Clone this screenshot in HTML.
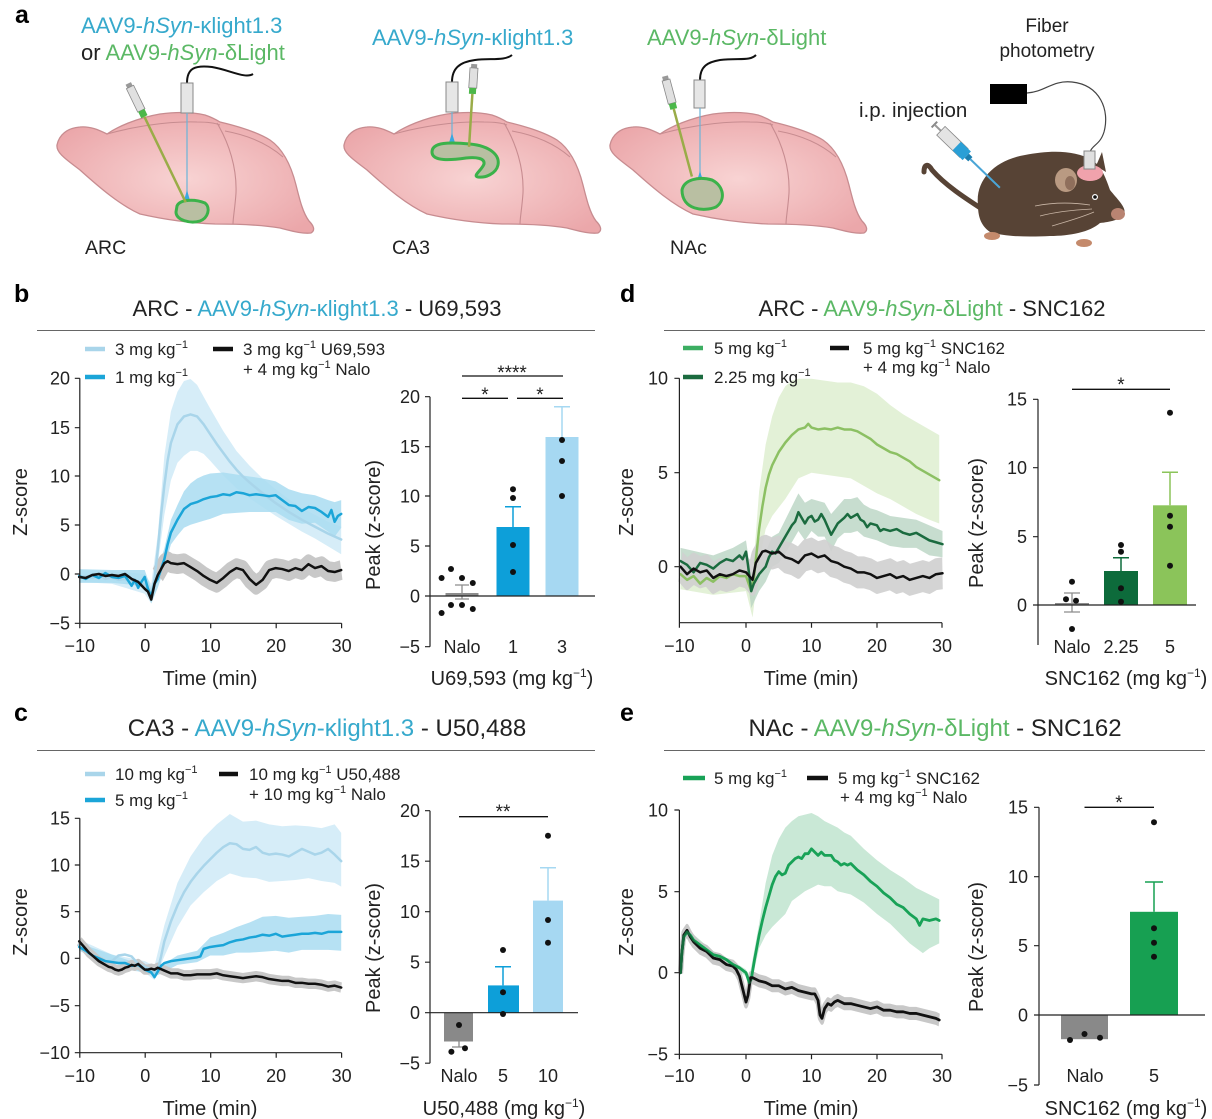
<!DOCTYPE html>
<html><head><meta charset="utf-8">
<style>
html,body{margin:0;padding:0;background:#fff;}
svg{display:block;}
text{font-family:"Liberation Sans","DejaVu Sans",sans-serif;fill:#222;}
.t{font-size:18px;}
.ax{font-size:20px;}
.lg{font-size:17px;}
.ti{font-size:22px;}
.ti2{font-size:24px;}
.ta{font-size:22px;}
.pl{font-size:25px;font-weight:bold;fill:#000;}
.cy{fill:#36a9cc;}
.gr{fill:#5bb865;}
.st{font-size:19px;}
.dl{vector-effect:non-scaling-stroke;fill:none;stroke-linejoin:round;stroke-linecap:round;}
.axl{stroke:#222;stroke-width:1.2;fill:none;}
.rule{stroke:#666;stroke-width:1;}
</style></head><body>
<svg width="1212" height="1119" viewBox="0 0 1212 1119" xmlns="http://www.w3.org/2000/svg">
<defs>
<radialGradient id="bgr" cx="0.5" cy="0.55" r="0.6"><stop offset="0" stop-color="#f8d3d3"/><stop offset="1" stop-color="#eba7aa"/></radialGradient>
<g id="brain">
<path d="M0,32 C2,22 10,15 23,14 C33,13 42,17 50,21 C60,14 80,5 103,1 C118,-1 135,-1 148,2 C154,4 158,6 163,9 C180,13 200,19 213,27 C226,36 234,52 239,72 C243,88 246,100 252,108 C256,112 259,117 254,120 C245,121 235,118 223,115 C205,112 180,111 158,111 C130,110 105,106 83,101 C63,92 43,75 23,57 C10,47 -1,40 0,32 Z" fill="url(#bgr)" stroke="#c78c90" stroke-width="1.3"/>
<path d="M50,21 C75,14 110,8 140,9 C150,9 158,10 163,12" fill="none" stroke="#c78c90" stroke-width="1.1"/>
<path d="M160,10 C172,30 180,55 179,80 C178,95 176,105 176,111" fill="none" stroke="#c78c90" stroke-width="1.1"/>
<path d="M168,18 C190,22 210,30 226,44" fill="none" stroke="#c78c90" stroke-width="1"/>
</g>
</defs>

<!-- ===== Panel a ===== -->
<text class="pl" x="15" y="23">a</text>
<text class="ta" x="81" y="33"><tspan class="cy">AAV9-<tspan font-style="italic">hSyn</tspan>-κlight1.3</tspan></text>
<text class="ta" x="81" y="60">or <tspan class="gr">AAV9-<tspan font-style="italic">hSyn</tspan>-δLight</tspan></text>
<text class="ta" x="372" y="45"><tspan class="cy">AAV9-<tspan font-style="italic">hSyn</tspan>-κlight1.3</tspan></text>
<text class="ta" x="647" y="45"><tspan class="gr">AAV9-<tspan font-style="italic">hSyn</tspan>-δLight</tspan></text>

<use href="#brain" transform="translate(57,113)"/>
<use href="#brain" transform="translate(344,113)"/>
<use href="#brain" transform="translate(610,113)"/>

<!-- ARC instruments -->
<path d="M187,83 C187,68 195,65 212,67 C230,70 245,79 253,74" stroke="#111" stroke-width="2" fill="none"/>
<rect x="181" y="83" width="12" height="30" fill="#e6e6e6" stroke="#888"/>
<line x1="187" y1="113" x2="187" y2="198" stroke="#6ab4d8" stroke-width="1.2"/>
<polygon points="183,204 191,204 187,190" fill="#3aa8e0"/>
<path d="M177,206 C180,199 195,199 205,203 C211,208 208,218 200,221 C190,224 176,220 176,212 Z" fill="#b9bfa2" stroke="#3bb24a" stroke-width="3"/>
<g transform="translate(130,87) rotate(64.2)">
<rect x="-4" y="-3" width="4" height="6" fill="#999"/>
<rect x="0" y="-4" width="26" height="8" fill="#e0e0e0" stroke="#888" stroke-width="0.8"/>
<rect x="26" y="-3.5" width="7" height="7" fill="#4cb84a"/>
<line x1="33" y1="0" x2="128" y2="0" stroke="#9aac48" stroke-width="2.5"/>
</g>
<!-- CA3 instruments -->
<path d="M452,82 C452,68 460,62 475,60 C490,58 505,61 512,55" stroke="#111" stroke-width="2" fill="none"/>
<rect x="446" y="82" width="12" height="30" fill="#e6e6e6" stroke="#888"/>
<line x1="452" y1="112" x2="452" y2="140" stroke="#6ab4d8" stroke-width="1.2"/>
<polygon points="448,146 456,146 452,133" fill="#3aa8e0"/>
<path d="M432,152 C432,142 450,142 470,144 C490,146 500,155 498,165 C496,174 485,178 478,177 C472,176 482,170 484,164 C485,158 476,157 466,158 C452,160 432,162 432,152 Z" fill="#b9bfa2" stroke="#3bb24a" stroke-width="3"/>
<g transform="translate(474,68) rotate(93.6)">
<rect x="-4" y="-3" width="4" height="6" fill="#999"/>
<rect x="0" y="-4" width="20" height="8" fill="#e0e0e0" stroke="#888" stroke-width="0.8"/>
<rect x="20" y="-3.5" width="6" height="7" fill="#4cb84a"/>
<line x1="26" y1="0" x2="79" y2="0" stroke="#9aac48" stroke-width="2.5"/>
</g>
<!-- NAc instruments -->
<path d="M700,80 C700,66 708,62 720,60 C740,58 750,61 756,55" stroke="#111" stroke-width="2" fill="none"/>
<rect x="694" y="80" width="11" height="28" fill="#e6e6e6" stroke="#888"/>
<line x1="700" y1="108" x2="700" y2="178" stroke="#6ab4d8" stroke-width="1.2"/>
<polygon points="696,184 704,184 700,171" fill="#3aa8e0"/>
<path d="M682,190 C684,180 698,176 712,180 C724,186 726,200 716,207 C704,212 682,210 682,190 Z" fill="#b9bfa2" stroke="#3bb24a" stroke-width="3"/>
<g transform="translate(666,80) rotate(75)">
<rect x="-4" y="-3" width="4" height="6" fill="#999"/>
<rect x="0" y="-4" width="24" height="8" fill="#e0e0e0" stroke="#888" stroke-width="0.8"/>
<rect x="24" y="-3.5" width="6" height="7" fill="#4cb84a"/>
<line x1="30" y1="0" x2="100" y2="0" stroke="#9aac48" stroke-width="2.5"/>
</g>

<text x="85" y="254" font-size="19.5">ARC</text>
<text x="392" y="254" font-size="19.5">CA3</text>
<text x="670" y="254" font-size="19.5">NAc</text>

<!-- mouse -->
<text x="1047" y="32" text-anchor="middle" font-size="19">Fiber</text>
<text x="1047" y="57" text-anchor="middle" font-size="19">photometry</text>
<text x="859" y="117" font-size="20.5">i.p. injection</text>
<rect x="990" y="84" width="37" height="20" fill="#000"/>
<path d="M1027,93 C1045,92 1052,80 1072,82 C1100,85 1110,110 1104,132 C1100,145 1092,145 1090,152" stroke="#444" stroke-width="1.2" fill="none"/>
<path d="M982,209 C965,198 945,185 932,170 C928,163 924,164 924,172" stroke="#574335" stroke-width="5" fill="none" stroke-linecap="round"/>
<path d="M978,205 C975,180 995,160 1025,155 C1050,150 1075,150 1092,160 C1100,165 1105,175 1110,190 C1118,200 1127,208 1124,214 C1120,220 1110,222 1100,223 C1090,232 1070,236 1050,236 C1030,237 1005,237 990,232 C980,225 978,215 978,205 Z" fill="#574335"/>
<path d="M1096,166 L1102,152 L1106,172 Z" fill="#574335"/>
<ellipse cx="1066" cy="180" rx="11" ry="12" fill="#b99a82"/>
<ellipse cx="1070" cy="183" rx="5" ry="7" fill="#8f6f5c"/>
<ellipse cx="1090" cy="173" rx="13" ry="8" fill="#f0a2ac"/>
<rect x="1084" y="151" width="11" height="18" fill="#e0e0e0" stroke="#888"/>
<circle cx="1095" cy="197" r="3" fill="#fff"/><circle cx="1095" cy="197" r="1.8" fill="#111"/>
<ellipse cx="1118" cy="214" rx="7" ry="6" fill="#b98472"/>
<path d="M1090,205 C1070,202 1050,203 1035,206 M1092,209 C1072,210 1055,212 1040,216 M1094,212 C1080,218 1065,222 1052,226" stroke="#c9b6a6" stroke-width="0.8" fill="none"/>
<ellipse cx="992" cy="236" rx="8" ry="4" fill="#c48a6c"/>
<ellipse cx="1084" cy="243" rx="8" ry="4" fill="#c48a6c"/>
<g transform="translate(938,128) rotate(44)">
<rect x="-6" y="-4" width="2" height="8" fill="#888"/>
<rect x="-5" y="-1" width="9" height="2" fill="#999"/>
<rect x="4" y="-6" width="32" height="12" fill="#e4e4e4" stroke="#888" stroke-width="0.8"/>
<rect x="26" y="-6" width="14" height="12" fill="#2a9fd6"/>
<rect x="40" y="-3" width="5" height="6" fill="#1b7fb0"/>
<line x1="45" y1="0" x2="86" y2="0" stroke="#4aa5d6" stroke-width="2"/>
</g>

<!-- ===== Panel b ===== -->
<text class="pl" x="14" y="302">b</text>
<text class="ti" x="317" y="316" text-anchor="middle">ARC - <tspan class="cy">AAV9-<tspan font-style="italic">hSyn</tspan>-κlight1.3</tspan> - U69,593</text>
<line class="rule" x1="37" y1="330.5" x2="595" y2="330.5"/>

<g transform="translate(144.7,574) scale(6.55,-9.85)">
<path d="M-10,0.4 L-5,0.3 0,0 1,-1 2,4 3,12 4,16.5 5,18.5 6,19.6 7,19.8 8,19.2 9,18 10,16.8 12,14.5 14,12.5 16,11 18,9.7 20,8.6 22,7.6 24,6.7 26,6 28,5.3 30,4.8 30,2 28,2.8 26,3.6 24,4.3 22,5.1 20,5.9 18,6.8 16,7.7 14,8.7 12,10 10,11.5 9,12.2 8,12.5 7,12.5 6,12 5,11.3 4,9.5 3,6 2,1 1,-3 0,-2 -5,-1 -10,-0.8Z" fill="#d6edf8"/>
<path d="M-10,0.5 L-5,0.4 0,0.4 1,-1.5 2,0.5 3,2.6 4,5.5 5,7 6,8.4 7,9.2 8,9.7 9,10 10,10.2 12,10.3 14,10.1 16,9.9 18,9.7 20,9.4 22,8.6 24,8.2 26,8 28,7.5 29,7.3 30,7.5 30,4.7 29,3.8 28,4.3 26,5.2 24,5.1 22,5.5 20,6.3 18,6.3 16,6.3 14,6.2 12,6.1 10,5.6 9,5.4 8,5.2 7,5 6,4.7 5,3.9 4,3 3,0.6 2,-1.4 1,-3 0,-1.2 -5,-0.9 -10,-0.9Z" fill="#a9dcf1" opacity="0.85"/>
<path d="M2,-0.1 L2.5,0.5 3,1.1 3.5,1.3 4,1.1 5,1 6,1.1 7,0.7 8,0.3 9,-0.2 10,-0.6 11,-0.9 12,-0.4 13,0.2 14,0.6 15,0.4 16,-0.5 17,-1.1 18,-0.6 19,0.4 20,0.6 21,0.5 22,0.3 23,0.6 24,0.4 25,1 26,0.6 27,0.8 28,0.3 29,0.2 30,0.4" fill="none" stroke="#c8c8c8" stroke-width="2" stroke-linejoin="round"/>
<path class="dl" stroke="#a9d5ea" stroke-width="2.5" d="M-10,-0.3 L-9,-0.2 -8,-0.4 -7,-0.1 -6,-0.5 -5,-0.3 -4,-0.6 -3,-0.5 -2,-0.8 -1,-1.2 0,-1 0.5,-1.6 1,-2 1.5,-0.5 2,2.5 2.5,6 3,9 3.5,11.5 4,13.3 5,15.2 6,16 7,16.2 8,16 9,15.2 10,14.2 11,13.2 12,12.3 13,11.4 14,10.6 15,9.9 16,9.3 18,8.2 20,7.2 22,6.3 24,5.5 26,4.8 28,4.1 30,3.5"/>
<path class="dl" stroke="#1ba5d8" stroke-width="2.5" d="M-10,-0.2 L-9,-0.5 -8,-0.1 -7,-0.4 -6,0.1 -5,-0.3 -4,-0.4 -3,-0.2 -2,-1.2 -1.5,-0.6 -1,-1.4 -0.5,-0.8 0,-0.3 0.5,-1.5 1,-2.3 1.5,-1 2,-0.5 2.5,0.5 3,1.5 3.5,3 4,4.2 5,5.5 6,6.6 7,7.1 8,7.3 9,7.6 10,7.8 11,7.9 12,8.1 13,8 14,8.3 15,8.2 16,8 17,8.1 18,8 19,7.9 20,8 21,7.5 22,7 23,6.9 24,6.4 25,6.8 26,6.7 27,6.3 28,5.8 28.5,6.5 29,5.3 29.5,5.9 30,6.1"/>
<path class="dl" stroke="#111" stroke-width="2.5" d="M-10,-0.3 L-9,-0.4 -8,-0.1 -7,0 -6,-0.2 -5,-0.1 -4,-0.2 -3,0 -2,-0.5 -1,-0.8 0,-1.5 0.5,-1.8 1,-2.6 1.5,-1 2,-0.1 2.5,0.5 3,1.1 3.5,1.3 4,1.1 5,1 6,1.1 7,0.7 8,0.3 9,-0.2 10,-0.6 11,-0.9 12,-0.4 13,0.2 14,0.6 15,0.4 16,-0.5 17,-1.1 18,-0.6 19,0.4 20,0.6 21,0.5 22,0.3 23,0.6 24,0.4 25,1 26,0.6 27,0.8 28,0.3 29,0.2 30,0.4"/>
</g>
<line x1="85" y1="349" x2="105" y2="349" stroke="#a9d5ea" stroke-width="4.5"/>
<text class="lg" x="115" y="355">3 mg kg<tspan dy="-7" font-size="11">−1</tspan></text>
<line x1="85" y1="377" x2="105" y2="377" stroke="#1ba5d8" stroke-width="4.5"/>
<text class="lg" x="115" y="383">1 mg kg<tspan dy="-7" font-size="11">−1</tspan></text>
<line x1="213" y1="349" x2="233" y2="349" stroke="#111" stroke-width="4.5"/>
<text class="lg" x="243" y="355">3 mg kg<tspan dy="-7" font-size="11">−1</tspan><tspan dy="7"> U69,593</tspan></text>
<text class="lg" x="243" y="375">+ 4 mg kg<tspan dy="-7" font-size="11">−1</tspan><tspan dy="7"> Nalo</tspan></text>
<path class="axl" d="M79.8,378.3 V623.3 H341.6 M74.8,378.3 H79.8 M74.8,427.7 H79.8 M74.8,476 H79.8 M74.8,525 H79.8 M74.8,574 H79.8 M74.8,623.3 H79.8 M79.8,623.3 v5 M145.2,623.3 v5 M210.7,623.3 v5 M276.2,623.3 v5 M341.6,623.3 v5"/>
<g class="t" text-anchor="end">
<text x="70" y="384.6">20</text><text x="70" y="434">15</text><text x="70" y="482.3">10</text><text x="70" y="531.3">5</text><text x="70" y="580.3">0</text><text x="70" y="629.6">−5</text>
</g>
<g class="t" text-anchor="middle">
<text x="79.8" y="652">−10</text><text x="145.2" y="652">0</text><text x="210.7" y="652">10</text><text x="276.2" y="652">20</text><text x="341.6" y="652">30</text>
</g>
<text class="ax" x="210" y="685" text-anchor="middle">Time (min)</text>
<text class="ax" transform="translate(27,502) rotate(-90)" text-anchor="middle">Z-score</text>

<!-- b bar -->
<rect x="445.5" y="593" width="33" height="3" fill="#8c8c8c"/>
<path d="M462,585 V599 M455,585 H469 M455,599 H469" stroke="#8c8c8c" stroke-width="1.3"/>
<rect x="496.5" y="527" width="33" height="69" fill="#0d9fd9"/>
<path d="M513,527 V506.7 M505,506.7 H521" stroke="#0d9fd9" stroke-width="1.5"/>
<rect x="545.5" y="437" width="33" height="159" fill="#a6d8f2"/>
<path d="M562,437 V406.7 M554,406.7 H570" stroke="#a6d8f2" stroke-width="1.5"/>
<path class="axl" d="M430,396.7 V646.7 M425,396.7 H430 M425,446.7 H430 M425,496 H430 M425,546 H430 M425,596 H430 M425,646.7 H430 M430,596 H595"/>
<g fill="#111">
<circle cx="451" cy="569" r="3"/><circle cx="441.6" cy="578" r="3"/><circle cx="462" cy="578" r="3"/><circle cx="472.8" cy="583" r="3"/><circle cx="451" cy="605" r="3"/><circle cx="462" cy="605" r="3"/><circle cx="441.6" cy="613" r="3"/><circle cx="472.8" cy="609" r="3"/>
<circle cx="513" cy="489.3" r="3"/><circle cx="513" cy="498" r="3"/><circle cx="513" cy="545" r="3"/><circle cx="513" cy="572" r="3"/>
<circle cx="562" cy="440" r="3"/><circle cx="562" cy="461" r="3"/><circle cx="562" cy="496" r="3"/>
</g>
<path d="M462,376 H563 M462,398.3 H508 M517,398.3 H563" stroke="#111" stroke-width="1.3"/>
<text class="st" x="512" y="379" text-anchor="middle">****</text>
<text class="st" x="485" y="401" text-anchor="middle">*</text>
<text class="st" x="540" y="401" text-anchor="middle">*</text>
<g class="t" text-anchor="end">
<text x="420" y="403">20</text><text x="420" y="453">15</text><text x="420" y="502.3">10</text><text x="420" y="552.3">5</text><text x="420" y="602.3">0</text><text x="420" y="653">−5</text>
</g>
<g class="t" text-anchor="middle">
<text x="462" y="653">Nalo</text><text x="513" y="653">1</text><text x="562" y="653">3</text>
</g>
<text class="ax" x="512" y="685" text-anchor="middle">U69,593 (mg kg<tspan dy="-8" font-size="12">−1</tspan><tspan dy="8">)</tspan></text>
<text class="ax" transform="translate(380,525) rotate(-90)" text-anchor="middle">Peak (z-score)</text>

<!-- ===== Panel d ===== -->
<text class="pl" x="620" y="302">d</text>
<text class="ti" x="932" y="316" text-anchor="middle">ARC - <tspan class="gr">AAV9-<tspan font-style="italic">hSyn</tspan>-δLight</tspan> - SNC162</text>
<line class="rule" x1="664" y1="330.5" x2="1205" y2="330.5"/>

<g transform="translate(746,566.7) scale(6.55,-18.8)">
<path d="M-10,0.3 L-5,0.1 0,0.4 1,-0.5 2,4 3,6.5 4,8 5,9 6,9.6 7,9.9 8,10 10,10 12,9.9 14,9.8 16,9.8 18,9.6 20,9.2 22,8.6 24,8.1 26,7.7 28,7.3 29.5,7 29.5,2.3 28,2.5 26,2.8 24,3.2 22,3.6 20,3.9 18,4.3 16,4.7 14,4.8 12,4.9 10,5 8,4.7 6,3.6 4,2.7 3,2 2,0.2 1,-2.7 0,-1.3 -5,-1.5 -10,-1.2Z" fill="#e3f1d7"/>
<path d="M-10,1 L-5,0.6 -2,1 0,1.4 0.8,-0.5 2,0.4 3,0.8 4,1.6 5,1.8 6,2.5 7,3.2 8,3.9 9,3.4 10,3.6 11,3.5 12,3.4 13,2.8 14,3.2 15,3.6 16,3.6 17,3.7 18,3.3 19,3.1 20,3 22,2.7 24,2.6 26,2.5 28,2.2 30,1.9 30,0.5 28,0.6 26,1 24,1 22,1.1 20,1.4 19,1.5 18,1.6 17,1.9 16,1.8 15,1.8 14,1.5 13,0.8 12,1.6 11,1.6 10,1.9 9,1.4 8,1.9 7,1.3 6,0.7 5,0.2 4,0 3,-0.8 2,-1.3 0.8,-2.2 0,0 -2,-0.5 -5,-0.8 -10,-0.4Z" fill="#b9d5c3" opacity="0.8"/>
<path d="M-10,0 L-9,-0.4 -8,-0.1 -7,-0.3 -6,-0.2 -5,-0.6 -4,-0.4 -3,-0.5 -2,-0.4 -1,-0.2 0,-0.3 0.5,-0.5 1,-0.7 1.5,0.2 2,0.5 2.5,0.8 3,0.85 4,0.7 5,0.8 6,0.5 7,0.4 8,0.2 9,0.6 10,0.7 11,0.5 12,0.6 13,0.3 14,0.2 15,0 16,-0.1 17,-0.3 18,-0.3 19,-0.4 20,-0.6 21,-0.5 22,-0.4 23,-0.6 24,-0.5 25,-0.7 26,-0.6 27,-0.5 28,-0.6 29,-0.4 30,-0.35" fill="none" stroke="#cfcfcf" stroke-width="1.7" stroke-linejoin="round" opacity="0.9"/>
<path class="dl" stroke="#8cc063" stroke-width="2.5" d="M-10,-0.4 L-9,-0.7 -8,-0.5 -7,-0.9 -6,-0.6 -5,-0.8 -4,-0.5 -3,-0.6 -2,-0.4 -1,-0.5 0,-0.5 0.5,-1 0.8,-1.3 1.2,-0.6 1.7,1 2,2 2.5,3.2 3,4.2 3.5,4.9 4,5.4 5,6.1 6,6.6 7,7 8,7.3 9,7.4 9.5,7.6 10,7.4 11,7.3 12,7.35 13,7.3 14,7.4 15,7.3 16,7.3 17,7.2 18,7 19,6.8 20,6.5 21,6.3 22,6.1 23,6 24,5.8 25,5.6 26,5.3 27,5.1 28,4.9 29,4.7 29.5,4.6"/>
<path class="dl" stroke="#1b6b3f" stroke-width="2.5" d="M-10,0.3 L-9,0.1 -8,-0.3 -7,0.2 -6,0.1 -5,-0.1 -4,0.2 -3,0.4 -2,0.3 -1,0.6 -0.5,0.4 0,0.8 0.3,0.1 0.8,-1.3 1.2,-0.9 2,-0.4 2.5,-0.2 3,0 3.5,0.5 4,0.8 4.5,0.7 5,1 6,1.6 7,2.2 7.5,2.4 8,2.9 8.5,2.6 9,2.3 9.5,2.6 10,2.7 10.5,2.4 11,2.5 11.5,2.8 12,2.5 12.5,2.1 13,1.7 13.5,2 14,2.3 15,2.6 15.5,2.8 16,2.6 16.5,2.7 17,2.8 17.5,2.5 18,2.4 18.5,2.1 19,2.3 20,2.2 20.5,1.9 21,2 22,1.9 23,2 24,1.8 25,1.7 26,1.8 27,1.6 28,1.4 29,1.3 30,1.2"/>
<path class="dl" stroke="#111" stroke-width="2.5" d="M-10,0 L-9,-0.4 -8,-0.1 -7,-0.3 -6,-0.2 -5,-0.6 -4,-0.4 -3,-0.5 -2,-0.4 -1,-0.2 0,-0.3 0.5,-0.5 1,-0.7 1.5,0.2 2,0.5 2.5,0.8 3,0.85 4,0.7 5,0.8 6,0.5 7,0.4 8,0.2 9,0.6 10,0.7 11,0.5 12,0.6 13,0.3 14,0.2 15,0 16,-0.1 17,-0.3 18,-0.3 19,-0.4 20,-0.6 21,-0.5 22,-0.4 23,-0.6 24,-0.5 25,-0.7 26,-0.6 27,-0.5 28,-0.6 29,-0.4 30,-0.35"/>
</g>
<line x1="683" y1="348" x2="703" y2="348" stroke="#3cae62" stroke-width="4.5"/>
<text class="lg" x="714" y="354">5 mg kg<tspan dy="-7" font-size="11">−1</tspan></text>
<line x1="683" y1="377" x2="703" y2="377" stroke="#1b6b3f" stroke-width="4.5"/>
<text class="lg" x="714" y="383">2.25 mg kg<tspan dy="-7" font-size="11">−1</tspan></text>
<line x1="830" y1="348" x2="849" y2="348" stroke="#111" stroke-width="4.5"/>
<text class="lg" x="863" y="354">5 mg kg<tspan dy="-7" font-size="11">−1</tspan><tspan dy="7"> SNC162</tspan></text>
<text class="lg" x="863" y="373">+ 4 mg kg<tspan dy="-7" font-size="11">−1</tspan><tspan dy="7"> Nalo</tspan></text>
<path class="axl" d="M679.4,378.3 V622.7 H942 M674.4,378.3 H679.4 M674.4,472.7 H679.4 M674.4,566.7 H679.4 M679.4,622.7 v5 M746,622.7 v5 M811.5,622.7 v5 M877,622.7 v5 M942,622.7 v5"/>
<g class="t" text-anchor="end">
<text x="668" y="384.6">10</text><text x="668" y="479">5</text><text x="668" y="573">0</text>
</g>
<g class="t" text-anchor="middle">
<text x="679.4" y="652">−10</text><text x="746" y="652">0</text><text x="811.5" y="652">10</text><text x="877" y="652">20</text><text x="942" y="652">30</text>
</g>
<text class="ax" x="811" y="685" text-anchor="middle">Time (min)</text>
<text class="ax" transform="translate(633,502) rotate(-90)" text-anchor="middle">Z-score</text>

<!-- d bar -->
<rect x="1055" y="603" width="34" height="2" fill="#8c8c8c"/>
<path d="M1072,593 V612 M1064,593 H1080 M1064,612 H1080" stroke="#8c8c8c" stroke-width="1.3"/>
<rect x="1104" y="571" width="34" height="34" fill="#0d6b3b"/>
<path d="M1121,571 V557.7 M1113,557.7 H1129" stroke="#0d6b3b" stroke-width="1.5"/>
<rect x="1153" y="505.3" width="34" height="99.7" fill="#8bc45a"/>
<path d="M1170,505.3 V472.3 M1162,472.3 H1178" stroke="#8bc45a" stroke-width="1.5"/>
<path class="axl" d="M1038,399.3 V645 M1033,399.3 H1038 M1033,467.7 H1038 M1033,536.7 H1038 M1033,605 H1038 M1038,605 H1196"/>
<g fill="#111">
<circle cx="1072" cy="581.7" r="3"/><circle cx="1066" cy="599.3" r="3"/><circle cx="1076" cy="600.7" r="3"/><circle cx="1072" cy="629" r="3"/>
<circle cx="1121" cy="545" r="3"/><circle cx="1121" cy="551.7" r="3"/><circle cx="1121" cy="588.3" r="3"/><circle cx="1121" cy="601.7" r="3"/>
<circle cx="1170" cy="412.7" r="3"/><circle cx="1170" cy="515.7" r="3"/><circle cx="1170" cy="526.7" r="3"/><circle cx="1170" cy="565.7" r="3"/>
</g>
<path d="M1072,389.3 H1170" stroke="#111" stroke-width="1.3"/>
<text class="st" x="1121" y="391" text-anchor="middle">*</text>
<g class="t" text-anchor="end">
<text x="1027" y="405.6">15</text><text x="1027" y="474">10</text><text x="1027" y="543">5</text><text x="1027" y="611.3">0</text>
</g>
<g class="t" text-anchor="middle">
<text x="1072" y="653">Nalo</text><text x="1121" y="653">2.25</text><text x="1170" y="653">5</text>
</g>
<text class="ax" x="1126" y="685" text-anchor="middle">SNC162 (mg kg<tspan dy="-8" font-size="12">−1</tspan><tspan dy="8">)</tspan></text>
<text class="ax" transform="translate(983,523) rotate(-90)" text-anchor="middle">Peak (z-score)</text>

<!-- ===== Panel c ===== -->
<text class="pl" x="14" y="721">c</text>
<text class="ti2" x="327" y="736" text-anchor="middle">CA3 - <tspan class="cy">AAV9-<tspan font-style="italic">hSyn</tspan>-κlight1.3</tspan> - U50,488</text>
<line class="rule" x1="37" y1="750.5" x2="595" y2="750.5"/>

<g transform="translate(144.7,958.3) scale(6.55,-9.43)">
<path d="M-10,2 L-5,0.4 0,-0.3 1.5,-0.8 3,3.5 5,8 7,10.8 9,12.8 11,14.2 13,15.3 15,14.5 17,14.6 19,14.2 21,14 23,14.1 25,14 27,13.8 29,14.2 30,13.3 30,7.6 29,8 27,8.2 25,8.5 23,8.3 21,8.2 19,8.1 17,8.5 15,8.6 13,9 11,8.2 9,7 7,5.6 5,3.3 3,0.2 1.5,-2.3 0,-1.5 -5,-1 -10,0.8Z" fill="#d6edf8"/>
<path d="M-10,1.6 L0,-0.8 2,-1 5,0.3 8,0.8 10,2.2 12,2.7 14,3.3 16,3.8 18,4.4 20,4.5 22,4.3 24,4.4 26,4.5 28,4.7 30,4.6 30,0.8 28,0.9 26,0.9 24,0.9 22,0.6 20,0.8 18,0.7 16,0.6 14,0.6 12,0.3 10,0.3 8,-0.4 5,-0.7 2,-1.8 0,-1.6 -10,0.8Z" fill="#a9dcf1" opacity="0.85"/>
<path d="M-10,1.8 L-9.5,1.4 -9,1 -8.5,0.6 -8,0.3 -7.5,0 -7,-0.3 -6.5,-0.5 -6,-0.7 -5.5,-0.9 -5,-1 -4.5,-1.2 -4,-1.3 -3.5,-1.2 -3,-1 -2.5,-0.9 -2,-0.7 -1.5,-0.8 -1,-0.6 -0.5,-0.9 0,-1.2 0.5,-1.2 1,-1.1 1.5,-1.2 2,-1 3,-1.3 4,-1.6 5,-1.6 6,-1.8 7,-1.8 8,-1.7 9,-1.7 10,-1.7 11,-1.6 12,-1.8 13,-1.9 14,-2 15,-2.1 16,-2 17,-1.9 18,-2 19,-2.2 20,-2.3 21,-2.4 22,-2.4 23,-2.6 24,-2.6 25,-2.7 26,-2.7 27,-2.8 28,-3 29,-2.9 30,-3.1" fill="none" stroke="#c8c8c8" stroke-width="1.1" stroke-linejoin="round"/>
<path class="dl" stroke="#a9d5ea" stroke-width="2.5" d="M-10,1.4 L-9,0.8 -8,0.3 -7,0 -6,-0.3 -5,-0.3 -4,0.3 -3,0.4 -2,0.2 -1,-0.6 0,-0.9 1,-1.2 1.5,-1.6 2,-1.2 2.5,0.2 3,1.8 4,3.9 5,5.6 6,7 7,8.1 8,9 9,9.8 10,10.5 11,11.2 12,11.8 13,12.2 14,12.1 15,11.6 16,11.5 17,11.8 18,11.2 19,11 20,11.1 21,11 22,10.8 23,11.2 24,11.6 25,11.3 26,11 27,11.2 28,11.6 29,11 30,10.3"/>
<path class="dl" stroke="#1ba5d8" stroke-width="2.5" d="M-10,1.2 L-9,0.8 -8,0.3 -7,0 -6,-0.3 -5,-0.4 -4,-0.5 -3,-0.5 -2,-0.8 -1,-0.7 0,-1.2 1,-1.5 1.5,-2 2,-1.4 2.5,-0.8 3,-0.5 4,-0.3 5,-0.2 6,-0.1 7,0 8,0.1 8.5,0.2 9,1 10,1.2 11,1.3 12,1.4 13,1.7 14,1.9 15,2 16,2.2 17,2.3 18,2.5 19,2.4 20,2.6 21,2.3 22,2.4 23,2.5 24,2.6 25,2.6 26,2.7 27,2.6 28,2.8 29,2.8 30,2.8"/>
<path class="dl" stroke="#111" stroke-width="2.5" d="M-10,1.8 L-9.5,1.4 -9,1 -8.5,0.6 -8,0.3 -7.5,0 -7,-0.3 -6.5,-0.5 -6,-0.7 -5.5,-0.9 -5,-1 -4.5,-1.2 -4,-1.3 -3.5,-1.2 -3,-1 -2.5,-0.9 -2,-0.7 -1.5,-0.8 -1,-0.6 -0.5,-0.9 0,-1.2 0.5,-1.2 1,-1.1 1.5,-1.2 2,-1 3,-1.3 4,-1.6 5,-1.6 6,-1.8 7,-1.8 8,-1.7 9,-1.7 10,-1.7 11,-1.6 12,-1.8 13,-1.9 14,-2 15,-2.1 16,-2 17,-1.9 18,-2 19,-2.2 20,-2.3 21,-2.4 22,-2.4 23,-2.6 24,-2.6 25,-2.7 26,-2.7 27,-2.8 28,-3 29,-2.9 30,-3.1"/>
</g>
<line x1="85" y1="774" x2="105" y2="774" stroke="#a9d5ea" stroke-width="4.5"/>
<text class="lg" x="115" y="780">10 mg kg<tspan dy="-7" font-size="11">−1</tspan></text>
<line x1="85" y1="800" x2="105" y2="800" stroke="#1ba5d8" stroke-width="4.5"/>
<text class="lg" x="115" y="806">5 mg kg<tspan dy="-7" font-size="11">−1</tspan></text>
<line x1="219" y1="774" x2="238" y2="774" stroke="#111" stroke-width="4.5"/>
<text class="lg" x="249" y="780">10 mg kg<tspan dy="-7" font-size="11">−1</tspan><tspan dy="7"> U50,488</tspan></text>
<text class="lg" x="249" y="800">+ 10 mg kg<tspan dy="-7" font-size="11">−1</tspan><tspan dy="7"> Nalo</tspan></text>
<path class="axl" d="M79.8,818.3 V1052.7 H341.6 M74.8,818.3 H79.8 M74.8,865 H79.8 M74.8,911.7 H79.8 M74.8,958.3 H79.8 M74.8,1005.7 H79.8 M74.8,1052.7 H79.8 M79.8,1052.7 v5 M145.2,1052.7 v5 M210.7,1052.7 v5 M276.2,1052.7 v5 M341.6,1052.7 v5"/>
<g class="t" text-anchor="end">
<text x="70" y="824.6">15</text><text x="70" y="871.3">10</text><text x="70" y="918">5</text><text x="70" y="964.6">0</text><text x="70" y="1012">−5</text><text x="70" y="1059">−10</text>
</g>
<g class="t" text-anchor="middle">
<text x="79.8" y="1082">−10</text><text x="145.2" y="1082">0</text><text x="210.7" y="1082">10</text><text x="276.2" y="1082">20</text><text x="341.6" y="1082">30</text>
</g>
<text class="ax" x="210" y="1115" text-anchor="middle">Time (min)</text>
<text class="ax" transform="translate(27,922) rotate(-90)" text-anchor="middle">Z-score</text>

<!-- c bar -->
<rect x="444" y="1012.7" width="29" height="28.8" fill="#898989"/>
<path d="M459,1041.5 V1047 M452,1047 H466" stroke="#898989" stroke-width="1.3"/>
<rect x="488" y="985.4" width="31" height="27.3" fill="#0d9fd9"/>
<path d="M503,985.4 V966.7 M495,966.7 H511" stroke="#0d9fd9" stroke-width="1.5"/>
<rect x="533" y="900.6" width="30" height="112.1" fill="#a6d8f2"/>
<path d="M548,900.6 V867.7 M540,867.7 H556" stroke="#a6d8f2" stroke-width="1.5"/>
<path class="axl" d="M430,810.7 V1063.2 M425,810.7 H430 M425,861.2 H430 M425,911.7 H430 M425,962.2 H430 M425,1012.7 H430 M425,1063.2 H430 M430,1012.7 H578"/>
<g fill="#111">
<circle cx="459" cy="1025" r="3"/><circle cx="451.4" cy="1051.7" r="3"/><circle cx="465" cy="1048.3" r="3"/>
<circle cx="503" cy="950" r="3"/><circle cx="503" cy="992.3" r="3"/><circle cx="503" cy="1014" r="3"/>
<circle cx="548" cy="835.7" r="3"/><circle cx="548" cy="920" r="3"/><circle cx="548" cy="942.7" r="3"/>
</g>
<path d="M459,816.7 H548" stroke="#111" stroke-width="1.3"/>
<text class="st" x="503" y="818" text-anchor="middle">**</text>
<g class="t" text-anchor="end">
<text x="420" y="817">20</text><text x="420" y="867.5">15</text><text x="420" y="918">10</text><text x="420" y="968.5">5</text><text x="420" y="1019">0</text><text x="420" y="1069.5">−5</text>
</g>
<g class="t" text-anchor="middle">
<text x="459" y="1082">Nalo</text><text x="503" y="1082">5</text><text x="548" y="1082">10</text>
</g>
<text class="ax" x="504" y="1115" text-anchor="middle">U50,488 (mg kg<tspan dy="-8" font-size="12">−1</tspan><tspan dy="8">)</tspan></text>
<text class="ax" transform="translate(380,948) rotate(-90)" text-anchor="middle">Peak (z-score)</text>

<!-- ===== Panel e ===== -->
<text class="pl" x="620" y="721">e</text>
<text class="ti2" x="935" y="736" text-anchor="middle">NAc - <tspan class="gr">AAV9-<tspan font-style="italic">hSyn</tspan>-δLight</tspan> - SNC162</text>
<line class="rule" x1="664" y1="750.5" x2="1205" y2="750.5"/>

<g transform="translate(746,972.7) scale(6.55,-16.3)">
<path d="M-10,0.2 L-9.5,2.5 -9,2.7 -5,1.3 -2,0.7 0,0.2 0.5,-0.3 2,3 3,5.5 4,7.2 5,8.2 6,8.9 7,9.3 8,9.6 9,9.7 10,9.8 11,9.6 12,9.3 13,9.1 14,8.9 15,8.6 16,8.4 18,7.6 20,6.9 22,6.3 24,5.8 26,5.2 28,4.8 29.5,4.5 29.5,1.8 28,1.5 27,1.2 26,1.5 25,1.8 24,2.2 22,3 20,3.6 18,4.3 16,4.8 15,4.9 14,5 13,5.3 12,5.3 11,5.4 10,5.2 9,5 8,4.7 7,4.4 6,3.6 5,3.2 4,2.8 3,2.3 2,1.5 1,-0.3 0.5,-0.9 0,-0.2 -2,0.3 -5,0.9 -9,2.3 -9.5,1.9 -10,-0.2Z" fill="#c9e8d6"/>
<path d="M-10,0 L-9.8,1.2 -9.5,2.3 -9,2.6 -8.5,2.2 -8,1.9 -7,1.5 -6,1.3 -5,0.9 -4,0.8 -3,0.5 -2,0.4 -1.5,0.2 -1,-0.2 -0.5,-1 0,-1.8 0.3,-1.4 0.7,-0.3 1,-0.3 1.5,-0.4 2,-0.5 3,-0.6 4,-0.8 5,-0.8 6,-1 7,-0.9 8,-1.1 9,-1.2 10,-1.3 10.5,-1.3 11,-1.7 11.3,-2.6 11.6,-2.8 12,-2.2 12.5,-1.9 13,-2 13.5,-1.8 14,-1.7 15,-1.9 16,-1.9 17,-2 18,-2.1 19,-2.2 20,-2.1 21,-2.3 22,-2.3 23,-2.4 24,-2.4 25,-2.5 26,-2.5 27,-2.6 28,-2.7 29,-2.8 29.5,-2.9" fill="none" stroke="#c8c8c8" stroke-width="0.8" stroke-linejoin="round"/>
<path class="dl" stroke="#18a257" stroke-width="2.8" d="M-10,0 L-9.8,1.2 -9.5,2.2 -9,2.5 -8.5,2.3 -8,2 -7,1.7 -6,1.4 -5,1.1 -4,1 -3,0.8 -2,0.5 -1,0.3 0,0 0.5,-0.6 0.8,-0.4 1.3,0.8 2,2.3 2.5,3.2 3,4 3.5,4.7 4,5.4 4.5,5.9 5,6.2 5.5,6 6,6.1 6.5,6.6 7,6.8 7.5,7 8,7.1 8.5,7 9,7.3 9.5,7.3 10,7.6 10.5,7.4 11,7.2 11.5,7.4 12,7.2 12.5,7.2 13,7.2 13.5,6.9 14,6.8 14.5,6.6 15,6.7 15.5,6.6 16,6.7 17,6.3 18,6 19,5.6 20,5.3 21,4.9 22,4.6 23,4.2 24,4 25,3.6 26,3.3 26.5,2.9 27,3.3 28,3.2 29,3.3 29.5,3.2"/>
<path class="dl" stroke="#111" stroke-width="2.8" d="M-10,0 L-9.8,1.2 -9.5,2.3 -9,2.6 -8.5,2.2 -8,1.9 -7,1.5 -6,1.3 -5,0.9 -4,0.8 -3,0.5 -2,0.4 -1.5,0.2 -1,-0.2 -0.5,-1 0,-1.8 0.3,-1.4 0.7,-0.3 1,-0.3 1.5,-0.4 2,-0.5 3,-0.6 4,-0.8 5,-0.8 6,-1 7,-0.9 8,-1.1 9,-1.2 10,-1.3 10.5,-1.3 11,-1.7 11.3,-2.6 11.6,-2.8 12,-2.2 12.5,-1.9 13,-2 13.5,-1.8 14,-1.7 15,-1.9 16,-1.9 17,-2 18,-2.1 19,-2.2 20,-2.1 21,-2.3 22,-2.3 23,-2.4 24,-2.4 25,-2.5 26,-2.5 27,-2.6 28,-2.7 29,-2.8 29.5,-2.9"/>
<path class="dl" stroke="#18a257" stroke-width="2.8" d="M-10,0 L-9.8,1.2 -9.5,2.2 -9,2.5 -8.5,2.3 -8,2 -7,1.7 -6,1.4 -5,1.1 -4,1 -3,0.8 -2,0.5 -1,0.3 0,0 0.5,-0.6" opacity="0.6"/>
</g>
<line x1="683" y1="778" x2="705" y2="778" stroke="#18a257" stroke-width="4.5"/>
<text class="lg" x="714" y="784">5 mg kg<tspan dy="-7" font-size="11">−1</tspan></text>
<line x1="807" y1="778" x2="828" y2="778" stroke="#111" stroke-width="4.5"/>
<text class="lg" x="838" y="784">5 mg kg<tspan dy="-7" font-size="11">−1</tspan><tspan dy="7"> SNC162</tspan></text>
<text class="lg" x="840" y="803">+ 4 mg kg<tspan dy="-7" font-size="11">−1</tspan><tspan dy="7"> Nalo</tspan></text>
<path class="axl" d="M679.4,810 V1054.3 H942 M674.4,810 H679.4 M674.4,891.7 H679.4 M674.4,972.7 H679.4 M674.4,1054.3 H679.4 M679.4,1054.3 v5 M746,1054.3 v5 M811.5,1054.3 v5 M877,1054.3 v5 M942,1054.3 v5"/>
<g class="t" text-anchor="end">
<text x="668" y="816.3">10</text><text x="668" y="898">5</text><text x="668" y="979">0</text><text x="668" y="1060.6">−5</text>
</g>
<g class="t" text-anchor="middle">
<text x="679.4" y="1082">−10</text><text x="746" y="1082">0</text><text x="811.5" y="1082">10</text><text x="877" y="1082">20</text><text x="942" y="1082">30</text>
</g>
<text class="ax" x="811" y="1115" text-anchor="middle">Time (min)</text>
<text class="ax" transform="translate(633,922) rotate(-90)" text-anchor="middle">Z-score</text>

<!-- e bar -->
<rect x="1061" y="1015" width="47" height="24.2" fill="#898989"/>
<rect x="1130" y="911.8" width="48" height="103.2" fill="#17a052"/>
<path d="M1154,911.8 V882 M1145,882 H1163" stroke="#17a052" stroke-width="1.5"/>
<path class="axl" d="M1039,807.3 V1085 M1034,807.3 H1039 M1034,876.7 H1039 M1034,945.7 H1039 M1034,1015 H1039 M1034,1085 H1039 M1039,1015 H1205"/>
<g fill="#111">
<circle cx="1070" cy="1040" r="3"/><circle cx="1084.5" cy="1034" r="3"/><circle cx="1100" cy="1037.7" r="3"/>
<circle cx="1154" cy="822.3" r="3"/><circle cx="1154" cy="928.3" r="3"/><circle cx="1154" cy="942.7" r="3"/><circle cx="1154" cy="956.7" r="3"/>
</g>
<path d="M1084.5,807.3 H1154" stroke="#111" stroke-width="1.3"/>
<text class="st" x="1119" y="809" text-anchor="middle">*</text>
<g class="t" text-anchor="end">
<text x="1028" y="813.6">15</text><text x="1028" y="883">10</text><text x="1028" y="952">5</text><text x="1028" y="1021.3">0</text><text x="1028" y="1091.3">−5</text>
</g>
<g class="t" text-anchor="middle">
<text x="1085" y="1082">Nalo</text><text x="1154" y="1082">5</text>
</g>
<text class="ax" x="1126" y="1115" text-anchor="middle">SNC162 (mg kg<tspan dy="-8" font-size="12">−1</tspan><tspan dy="8">)</tspan></text>
<text class="ax" transform="translate(983,947) rotate(-90)" text-anchor="middle">Peak (z-score)</text>
</svg>
</body></html>
